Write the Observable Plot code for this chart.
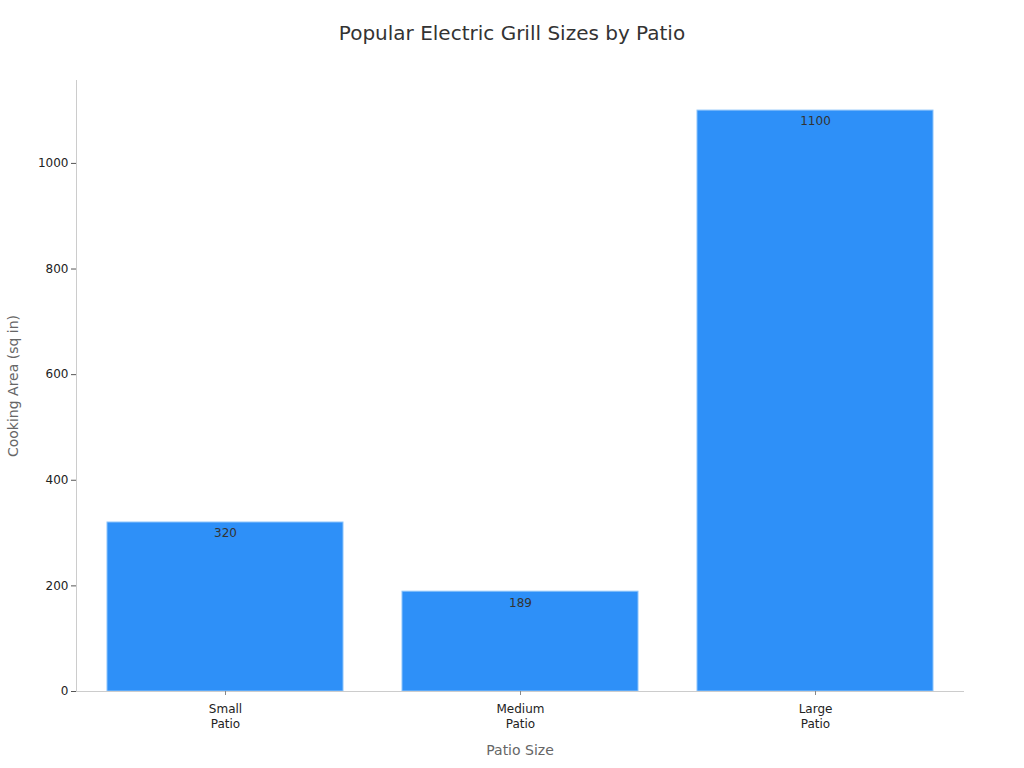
<!DOCTYPE html>
<html>
<head>
<meta charset="utf-8">
<script src="https://cdn.jsdelivr.net/npm/d3@7"></script>
<script src="https://cdn.jsdelivr.net/npm/@observablehq/plot@0.6"></script>
<style>
  html, body { margin: 0; padding: 0; background: #fff; }
  body { width: 1024px; height: 768px; overflow: hidden; font-family: "DejaVu Sans", sans-serif; }
  #title { height: 66px; line-height: 66px; text-align: center; font-size: 20px; color: #333; }
</style>
</head>
<body>
<div id="title">Popular Electric Grill Sizes by Patio</div>
<div id="chart"></div>
<script>
const categories = ["Small Patio", "Medium Patio", "Large Patio"];
const values = [320, 189, 1100];
const yTicks = [0, 200, 400, 600, 800, 1000];

const data = categories.map((c, i) => ({category: c, value: values[i]}));

const chart = Plot.plot({
  width: 1024,
  height: 702,
  marginTop: 14,
  marginBottom: 77,
  marginLeft: 76,
  marginRight: 61,
  style: {fontFamily: "DejaVu Sans, sans-serif", fontSize: "12px", background: "#fff"},
  x: {domain: categories, paddingInner: 0.2, paddingOuter: 0.1},
  y: {domain: [0, 1157]},
  marks: [
    Plot.barY(data, {x: "category", y: "value", fill: "#2e90f8", stroke: "#8cc4fb", strokeWidth: 1}),
    Plot.text(data, {x: "category", y: "value", text: d => String(d.value), dy: 11, fill: "#333", fontSize: 12}),
    Plot.frame({anchor: "left", stroke: "#cccccc"}),
    Plot.frame({anchor: "bottom", stroke: "#cccccc"}),
    Plot.axisY({ticks: yTicks, tickFormat: d3.format("d"), tickSize: 5, tickPadding: 3, stroke: "#555", fill: "#222", fontSize: 12, label: null}),
    Plot.axisX({tickSize: 4, tickPadding: 6, stroke: "#888", fill: "#222", fontSize: 12, lineHeight: 1.3, tickFormat: d => d.replace(" ", "\n"), label: null}),
    Plot.text(["Patio Size"], {frameAnchor: "bottom", dy: 63, fill: "#666", fontSize: 14}),
    Plot.text(["Cooking Area (sq in)"], {frameAnchor: "left", textAnchor: "middle", dx: -63, rotate: -90, fill: "#666", fontSize: 14})
  ]
});
document.getElementById("chart").appendChild(chart);
</script>
</body>
</html>
